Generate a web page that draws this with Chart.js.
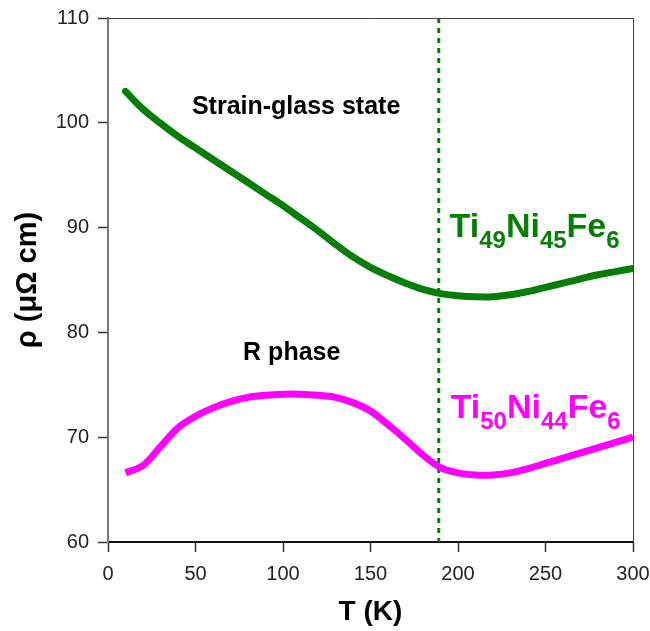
<!DOCTYPE html>
<html>
<head>
<meta charset="utf-8">
<script src="https://cdn.jsdelivr.net/npm/chart.js@4.4.1/dist/chart.umd.min.js"></script>
<style>
  html, body { margin: 0; padding: 0; background: #ffffff; }
  canvas { display: block; }
</style>
</head>
<body>
<canvas id="chart" width="650" height="631"></canvas>
<script>
// Temperature grid (K)
const temps = [10, 20, 30, 40, 50, 60, 70, 80, 90, 100, 110, 120, 130, 140, 150,
               160, 170, 180, 190, 200, 210, 220, 230, 240, 250, 260, 270, 280, 290, 300];

// Resistivity (µΩ cm) of Ti49Ni45Fe6 (strain glass)
const rhoTi49 = [103.0, 101.3, 99.95, 98.7, 97.6, 96.5, 95.4, 94.3, 93.2, 92.1,
                 90.9, 89.7, 88.4, 87.2, 86.2, 85.4, 84.7, 84.1, 83.7, 83.5,
                 83.4, 83.4, 83.6, 83.9, 84.3, 84.7, 85.1, 85.5, 85.8, 86.1];

// Resistivity (µΩ cm) of Ti50Ni44Fe6 (R phase)
const rhoTi50 = [66.6, 67.3, 69.1, 70.9, 72.0, 72.8, 73.4, 73.8, 74.0, 74.1,
                 74.1, 74.0, 73.8, 73.3, 72.5, 71.2, 69.8, 68.3, 67.1, 66.6,
                 66.4, 66.4, 66.6, 67.0, 67.5, 68.0, 68.5, 69.0, 69.5, 70.0];

// Strain-glass freezing temperature marker (K)
const freezingT = 189;

// Axis ticks
const xTicks = [0, 50, 100, 150, 200, 250, 300];
const yTicks = [60, 70, 80, 90, 100, 110];

const GREEN = '#067d06';
const MAGENTA = '#ff00ff';

const toPoints = (xs, ys) => xs.map((x, i) => ({ x: x, y: ys[i] }));

// Text labels placed in data coordinates
const textLabels = [
  { text: 'Strain-glass state', x: 107.5, y: 100.8, size: 25, color: '#000' },
  { text: 'R phase', x: 105, y: 77.4, size: 25, color: '#000' }
];

// Alloy formula labels: [text, isSubscript]
const formulaLabels = [
  { parts: [['Ti', false], ['49', true], ['Ni', false], ['45', true], ['Fe', false], ['6', true]],
    x: 195.2, y: 89.1, color: GREEN },
  { parts: [['Ti', false], ['50', true], ['Ni', false], ['44', true], ['Fe', false], ['6', true]],
    x: 195.8, y: 71.8, color: MAGENTA }
];

const labelPlugin = {
  id: 'labelPlugin',
  afterDatasetsDraw(chart) {
    const { ctx, scales: { x, y }, chartArea } = chart;
    ctx.save();
    // thin frame on top and right
    ctx.strokeStyle = '#444';
    ctx.lineWidth = 1;
    ctx.beginPath();
    ctx.moveTo(chartArea.left, chartArea.top + 0.5);
    ctx.lineTo(chartArea.right + 0.5, chartArea.top + 0.5);
    ctx.lineTo(chartArea.right + 0.5, chartArea.bottom);
    ctx.stroke();

    ctx.textBaseline = 'alphabetic';
    textLabels.forEach(l => {
      ctx.font = `bold ${l.size}px "Liberation Sans", Arial, sans-serif`;
      ctx.fillStyle = l.color;
      ctx.textAlign = 'center';
      ctx.fillText(l.text, x.getPixelForValue(l.x), y.getPixelForValue(l.y));
    });

    ctx.textAlign = 'left';
    formulaLabels.forEach(f => {
      let px = x.getPixelForValue(f.x);
      const py = y.getPixelForValue(f.y);
      ctx.fillStyle = f.color;
      f.parts.forEach(([t, sub]) => {
        ctx.font = sub ? 'bold 24px "Liberation Sans", Arial, sans-serif'
                       : 'bold 34px "Liberation Sans", Arial, sans-serif';
        ctx.fillText(t, px, sub ? py + 11 : py);
        px += ctx.measureText(t).width;
      });
    });
    ctx.restore();
  }
};

new Chart(document.getElementById('chart'), {
  type: 'line',
  data: {
    datasets: [
      {
        label: 'Ti49Ni45Fe6',
        data: toPoints(temps, rhoTi49),
        borderColor: GREEN,
        borderWidth: 7,
        borderCapStyle: 'round',
        borderJoinStyle: 'round',
        pointRadius: 0,
        tension: 0.35
      },
      {
        label: 'Ti50Ni44Fe6',
        data: toPoints(temps, rhoTi50),
        borderColor: MAGENTA,
        borderWidth: 7,
        borderCapStyle: 'butt',
        borderJoinStyle: 'round',
        pointRadius: 0,
        tension: 0.35
      },
      {
        label: 'freezing',
        data: [{ x: freezingT, y: yTicks[yTicks.length - 1] }, { x: freezingT, y: yTicks[0] }],
        borderColor: GREEN,
        borderWidth: 3,
        borderDash: [5, 5],
        pointRadius: 0
      }
    ]
  },
  options: {
    responsive: false,
    animation: false,
    events: [],
    layout: { padding: { top: 18, right: 17, left: 0, bottom: 0 } },
    plugins: { legend: { display: false }, tooltip: { enabled: false } },
    scales: {
      x: {
        type: 'linear',
        min: xTicks[0],
        max: xTicks[xTicks.length - 1],
        afterBuildTicks: s => { s.ticks = xTicks.map(v => ({ value: v })); },
        afterFit: s => { s.height = 89; s.paddingLeft = 0; s.paddingRight = 0; },
        border: { display: true, color: '#111', width: 2 },
        grid: { drawOnChartArea: false, drawTicks: true, tickLength: 10, tickColor: '#333', tickWidth: 1.5 },
        ticks: { color: '#222', padding: 10, maxRotation: 0,
                 font: { family: '"Liberation Sans", Arial, sans-serif', size: 20 } },
        title: { display: true, text: 'T (K)', color: '#000',
                 padding: { top: 0, bottom: 5 },
                 font: { family: '"Liberation Sans", Arial, sans-serif', size: 28, weight: 'bold', lineHeight: 1 } }
      },
      y: {
        type: 'linear',
        min: yTicks[0],
        max: yTicks[yTicks.length - 1],
        afterBuildTicks: s => { s.ticks = yTicks.map(v => ({ value: v })); },
        afterFit: s => { s.width = 108; s.paddingTop = 0; s.paddingBottom = 0; },
        border: { display: true, color: '#777', width: 2 },
        grid: { drawOnChartArea: false, drawTicks: true, tickLength: 10, tickColor: '#333', tickWidth: 1.5 },
        ticks: { color: '#222', padding: 9,
                 font: { family: '"Liberation Sans", Arial, sans-serif', size: 20 } },
        title: { display: true, text: 'ρ (μΩ cm)', color: '#000',
                 padding: { top: 13, bottom: 0 },
                 font: { family: '"Liberation Sans", Arial, sans-serif', size: 29, weight: 'bold', lineHeight: 1 } }
      }
    }
  },
  plugins: [labelPlugin]
});
</script>
</body>
</html>
